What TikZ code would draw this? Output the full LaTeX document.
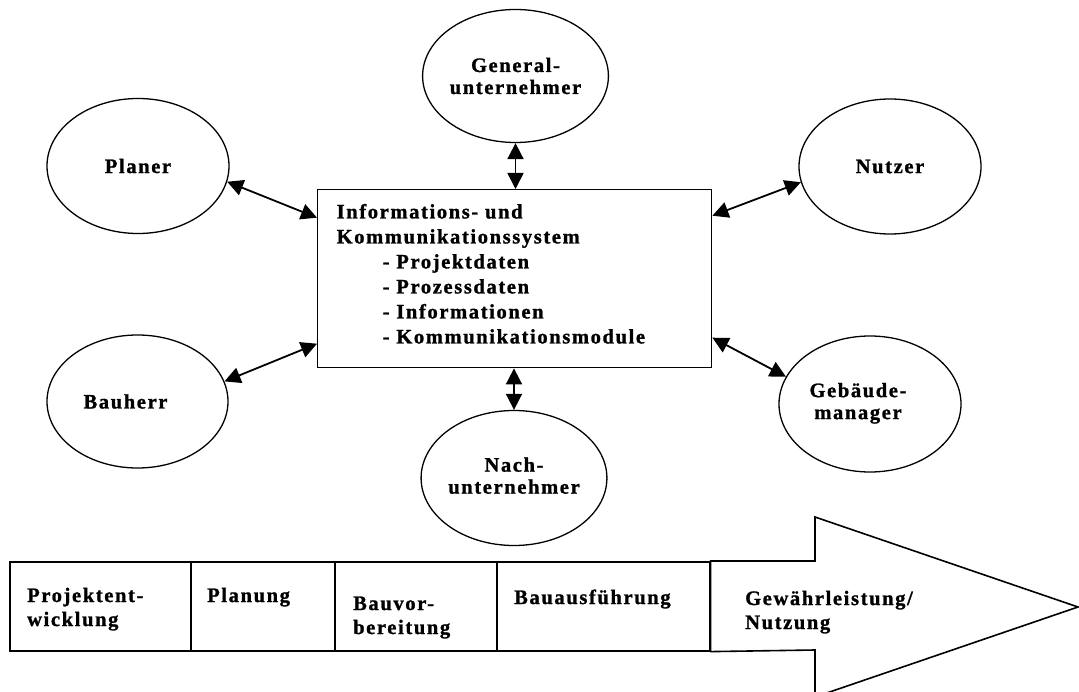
\documentclass[tikz,border=0pt]{standalone}
\usepackage{fontspec}
\setmainfont{Liberation Serif}[LetterSpace=8,BoldFeatures={FakeBold=1.2}]
\usetikzlibrary{shapes.geometric,arrows.meta,calc}
\newcommand\twoln[2]{\vtop{\hbox{#1}\hbox{#2}}}
\begin{document}
\begin{tikzpicture}[x=1pt,y=-1pt,
  lbl/.style={font=\bfseries\fontsize{20.5}{22}\selectfont},
  party/.style={ellipse,draw,line width=1.3pt,inner sep=0pt,align=center,lbl},
  link/.style={line width=1.8pt,{Triangle[length=16pt,width=16pt]}-{Triangle[length=16pt,width=16pt]}},
  cell/.style={draw,line width=1.6pt,rectangle,minimum height=89pt,anchor=north west,inner sep=0pt},
  celltext/.style={anchor=base west,inner sep=0pt,font=\bfseries\fontsize{20.5}{24}\selectfont},
  sysbox/.style={draw,line width=1.4pt,rectangle,anchor=north west,minimum height=178pt,
    text width=356pt,inner xsep=19pt,inner ysep=0pt,align=left,font=\bfseries\fontsize{20.5}{25}\selectfont}
]
\clip (0,0) rectangle (1079,692);
\fill[white] (0,0) rectangle (1079,692);

% central system box
\node[sysbox] (sys) at (317,189) {Informations- und\\
Kommunikationssystem\\
\hspace*{46pt}- Projektdaten\\
\hspace*{46pt}- Prozessdaten\\
\hspace*{46pt}- Informationen\\
\hspace*{46pt}- Kommunikationsmodule\rule[-10pt]{0pt}{0pt}};

% parties
\node[party,minimum width=177pt,minimum height=133pt] (gen) at (515.5,76) {General-\\unternehmer};
\node[party,minimum width=182pt,minimum height=135pt] (planer) at (138,166) {Planer};
\node[party,minimum width=182pt,minimum height=135pt] (nutzer) at (890,166.5) {Nutzer};
\node[party,minimum width=181pt,minimum height=133pt] (bauherr) at (137.5,401.5) {Bauherr\hspace*{24pt}};
\node[party,minimum width=182pt,minimum height=136pt] (geb) at (870,404) {Gebäude-\hspace*{24pt}\\manager\hspace*{24pt}\rule[-6pt]{0pt}{0pt}};
\node[party,minimum width=176pt,minimum height=135pt] (nach) at (514,478) {Nach-\\unternehmer\rule[-5pt]{0pt}{0pt}};

% connectors
\draw[link] (planer.-10) -- ([yshift=61pt]sys.west);
\draw[link] ([yshift=-65pt]sys.west) -- (bauherr.13);
\draw[link] ([yshift=63pt]sys.east) -- (nutzer.190);
\draw[link] ([yshift=-59pt]sys.east) -- (geb.162);
\draw[link] (gen.south) -- (gen.south |- sys.north);
\draw[link] (sys.south -| nach.north) -- (nach.north);

% phase bar
\node[cell,minimum width=181pt] (c1) at (9,561) {};
\node[cell,minimum width=144pt] (c2) at (190,561) {};
\node[cell,minimum width=162pt] (c3) at (334,561) {};
\node[cell,minimum width=213pt] (c4) at (496,561) {};
\draw[line width=1.6pt,line join=miter]
  (c4.north east) -- (815,561) -- (815,517) -- (1078,607) -- (815,697) -- (815,650) -- (c4.south east) -- cycle;

\node[celltext] (t1) at (27,602) {\twoln{Projektent-}{wicklung}};
\node[celltext] (t2) at (207,602) {Planung};
\node[celltext] (t3) at (353,610) {\twoln{Bauvor-}{bereitung}};
\node[celltext] (t4) at (514,604) {Bauausführung};
\node[celltext] (t5) at (745,605) {\twoln{Gewährleistung/}{Nutzung}};
\end{tikzpicture}
\end{document}
